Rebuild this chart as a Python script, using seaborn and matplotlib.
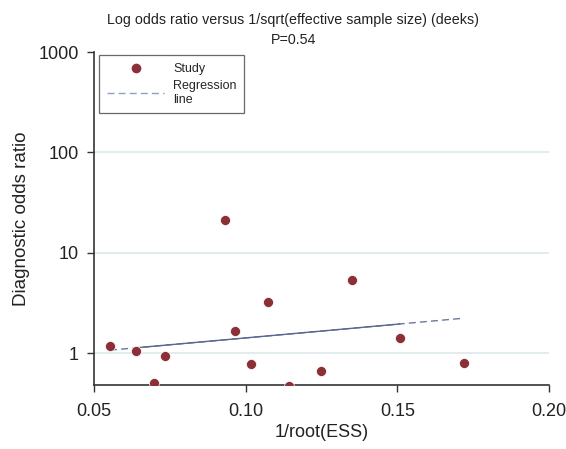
import numpy as np
import pandas as pd
import seaborn as sns
import matplotlib.pyplot as plt
from matplotlib.lines import Line2D

# study points
ess_x = [0.0553, 0.0640, 0.0698, 0.0733, 0.0932, 0.0964, 0.1019, 0.1073,
         0.1144, 0.1248, 0.1350, 0.1509, 0.1720]
dor = [1.17, 1.04, 0.50, 0.93, 21.0, 1.68, 0.78, 3.2,
       0.47, 0.66, 5.3, 1.42, 0.80]

# regression line (dashed outside, solid inside)
line_x = [0.0553, 0.1720]
line_y = [1.07, 2.23]
solid_x = [0.0640, 0.1509]

yticks = [1, 10, 100, 1000]
xticks = [0.05, 0.10, 0.15, 0.20]

df = pd.DataFrame({"x": ess_x, "dor": dor})
# log-linear line
b = (np.log10(line_y[1]) - np.log10(line_y[0])) / (line_x[1] - line_x[0])
a = np.log10(line_y[0]) - b * line_x[0]
solid_y = [10 ** (a + b * v) for v in solid_x]

sns.set_theme(style="white")
plt.rcParams['font.family'] = ['Liberation Sans', 'DejaVu Sans']

fig = plt.figure(figsize=(5.66, 4.49), dpi=100)
ax = fig.add_axes([0.166, 0.1425, 0.804, 0.7415])

for yv in yticks[:-1]:
    ax.axhline(yv, color="#dde9ec", lw=1.2, zorder=0)

sns.lineplot(x=line_x, y=line_y, ax=ax, color="#6a7899", lw=1.0,
             linestyle=(0, (5, 3)), zorder=2)
sns.lineplot(x=solid_x, y=solid_y, ax=ax, color="#5a6790", lw=1.0, zorder=3)
sns.scatterplot(data=df, x="x", y="dor", ax=ax, color="#8b3036", s=52,
                edgecolor="white", linewidth=0.5, zorder=4)

ax.set_yscale("log")
ax.set_xlim(0.05, 0.20)
ax.set_ylim(0.481, 1000)
ax.set_xticks(xticks)
ax.set_xticklabels(["0.05", "0.10", "0.15", "0.20"])
ax.set_yticks(yticks)
ax.set_yticklabels(["1", "10", "100", "1000"])
ax.minorticks_off()
ax.tick_params(axis="both", direction="out", length=5, width=1, colors="#333333",
               labelcolor="#222222", labelsize=13, bottom=True, left=True, pad=6)
ax.tick_params(axis="x", pad=8)

for s in ["top", "right"]:
    ax.spines[s].set_visible(False)
for s in ["left", "bottom"]:
    ax.spines[s].set_color("#333333")
    ax.spines[s].set_linewidth(1.2)

ax.set_xlabel("1/root(ESS)", fontsize=13, color="#222222", labelpad=3)
ax.set_ylabel("Diagnostic odds ratio", fontsize=13.5, color="#222222", labelpad=6)
fig.text(0.518, 0.955, "Log odds ratio versus 1/sqrt(effective sample size) (deeks)",
         fontsize=10.3, color="#222222", ha="center", va="center")
fig.text(0.518, 0.912, "P=0.54", fontsize=10.3, color="#222222",
         ha="center", va="center")

handles = [
    Line2D([], [], marker="o", color="none", markerfacecolor="#8b3036",
           markeredgecolor="white", markersize=8),
    Line2D([], [], color="#8da0c4", lw=1.0, linestyle=(0, (5, 3))),
]
leg = ax.legend(handles, ["Study", "Regression\nline"], loc="upper left",
                bbox_to_anchor=(0.012, 0.99), fontsize=9, frameon=True,
                fancybox=False, edgecolor="#444444", handlelength=4.6,
                borderpad=0.6, labelspacing=0.4, handletextpad=0.7,
                borderaxespad=0.0)
leg.get_frame().set_linewidth(0.9)

fig.savefig("out.png", dpi=100)
